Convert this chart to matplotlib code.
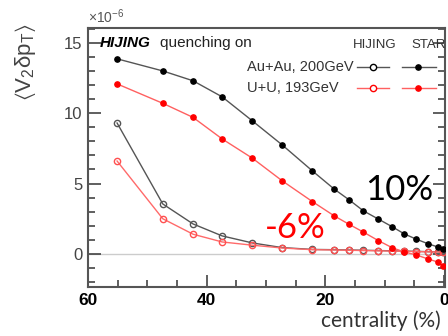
import matplotlib
matplotlib.use("Agg")
import matplotlib.pyplot as plt
from matplotlib.ticker import MultipleLocator

plt.rcParams['font.family'] = ['Liberation Sans', 'DejaVu Sans']
plt.rcParams['mathtext.fontset'] = 'dejavusans'
plt.rcParams['mathtext.default'] = 'regular'

# centrality (%) bin positions
centrality = [55.1, 47.4, 42.3, 37.4, 32.3, 27.3, 22.2, 18.5, 16.0, 13.6,
              11.1, 8.7, 6.7, 4.7, 2.7, 1.1, 0.2]
# <V2 dpT> x 1e-6
star_auau = [13.86, 13.0, 12.3, 11.16, 9.45, 7.75, 5.9, 4.6, 3.84, 3.06,
             2.48, 1.92, 1.42, 1.05, 0.72, 0.5, 0.36]
star_uu = [12.08, 10.7, 9.7, 8.17, 6.8, 5.2, 3.72, 2.7, 2.1, 1.55,
           0.95, 0.43, 0.14, -0.07, -0.36, -0.57, -0.85]
hijing_auau = [9.3, 3.55, 2.13, 1.28, 0.78, 0.45, 0.32, 0.3, 0.28, 0.26,
               0.24, 0.22, 0.2, 0.18, 0.16, 0.15, 0.14]
hijing_uu = [6.6, 2.5, 1.4, 0.85, 0.62, 0.42, 0.3, 0.28, 0.26, 0.24,
             0.22, 0.2, 0.19, 0.17, 0.15, 0.14, 0.13]

fig = plt.figure(figsize=(4.48, 3.36), dpi=100)
ax = fig.add_axes([88/448, 1-287/336, (445-88)/448, (287-28)/336])

ax.axhline(0, color='#cccccc', lw=1, zorder=1)

ax.plot(centrality, hijing_auau, '-o', color='#555555', lw=1, ms=4.5,
        mfc='none', mec='#555555', mew=1, zorder=3)
ax.plot(centrality, hijing_uu, '-o', color='#ff6a6a', lw=1, ms=4.5,
        mfc='none', mec='#ff5050', mew=1, zorder=3)
ax.plot(centrality, star_auau, '-o', color='#555555', lw=1, ms=3.8,
        mfc='black', mec='black', zorder=4)
ax.plot(centrality, star_uu, '-o', color='#ff6060', lw=1, ms=3.8,
        mfc='#ff0000', mec='#ff0000', zorder=4)

ax.set_xlim(60, -0.15)
ax.set_ylim(-2.35, 16.05)

ax.xaxis.set_major_locator(MultipleLocator(20))
ax.xaxis.set_minor_locator(MultipleLocator(5))
ax.yaxis.set_major_locator(MultipleLocator(5))
ax.yaxis.set_minor_locator(MultipleLocator(1))
ax.tick_params(which='both', direction='in', top=False, right=True,
               color='#444444', width=1.2)
ax.tick_params(which='major', length=9)
ax.tick_params(which='minor', length=5)
ax.tick_params(axis='y', labelsize=12, labelcolor='#444444', pad=4)
ax.tick_params(axis='x', labelsize=12.5, labelcolor='black', pad=4)
for lab in ax.get_xticklabels():
    lab.set_fontweight('bold')
for s in ax.spines.values():
    s.set_color('#555555')
    s.set_linewidth(1.5)

# exponent label
fig.text(88/448, 1-17/336, r'$\times10^{-6}$', fontsize=10, color='#555555',
         ha='left', va='center')

# y label
fig.text(25/448, 1-62/336, r'$\langle V_2 \delta p_T \rangle$', fontsize=16,
         color='#444444', rotation=90, ha='center', va='center')

# x label
fig.text(441/448, 1-321/336, 'centrality (%)', fontsize=15, color='#333333',
         family=['Lato', 'DejaVu Sans'], ha='right', va='center')

# title inside
ax.text(0.034, 0.942, 'HIJING', transform=ax.transAxes, fontsize=11,
        fontweight='bold', fontstyle='italic', ha='left', va='center')
ax.text(0.202, 0.942, 'quenching on', transform=ax.transAxes, fontsize=11,
        color='#222222', ha='left', va='center')

# legend
ax.text(0.804, 0.934, 'HIJING', transform=ax.transAxes, fontsize=9.5,
        color='#333333', ha='center', va='center')
ax.text(0.905, 0.934, 'STAR', transform=ax.transAxes, fontsize=9.5,
        color='#333333', ha='left', va='center')
ax.text(0.445, 0.849, 'Au+Au, 200GeV', transform=ax.transAxes, fontsize=10.5,
        color='#333333', ha='left', va='center')
ax.text(0.445, 0.768, 'U+U, 193GeV', transform=ax.transAxes, fontsize=10.5,
        color='#333333', ha='left', va='center')
for yy, lc, mc in [(0.849, '#555555', 'black'), (0.768, '#ff6060', '#ff0000')]:
    ax.plot([0.753, 0.843], [yy, yy], color=lc, lw=1, transform=ax.transAxes, clip_on=False)
    ax.plot([0.798], [yy], 'o', ms=4.5, mfc='white', mec=mc, mew=1,
            transform=ax.transAxes, clip_on=False)
    ax.plot([0.88, 0.975], [yy, yy], color=lc, lw=1, transform=ax.transAxes, clip_on=False)
    ax.plot([0.924], [yy], 'o', ms=3.8, mfc=mc, mec=mc,
            transform=ax.transAxes, clip_on=False)

# annotations
fig.text(399/448, 1-190/336, '10%', fontsize=25, color='black',
         family=['Lato', 'DejaVu Sans'], ha='center', va='center')
fig.text(295/448, 1-228/336, '-6%', fontsize=25, color='#ff0000',
         family=['Lato', 'DejaVu Sans'], ha='center', va='center')

fig.savefig('out.png', dpi=100)
